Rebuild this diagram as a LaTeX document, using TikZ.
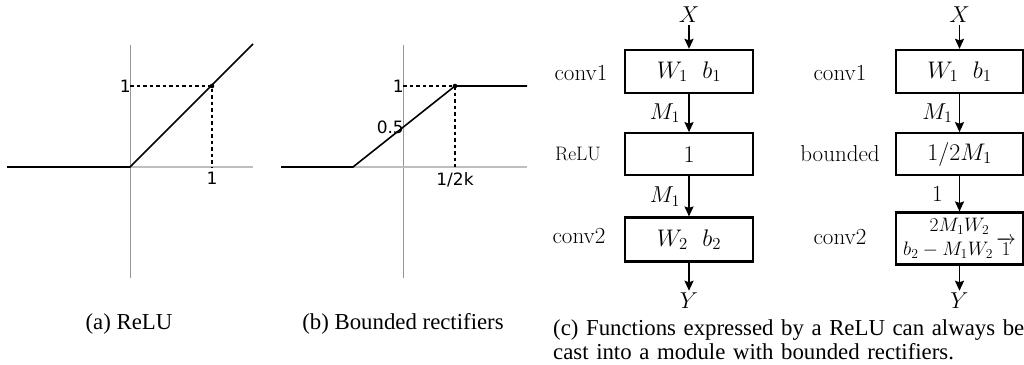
\RequirePackage{fix-cm}
\documentclass[tikz,border=0pt]{standalone}
\usepackage{fontspec}
\usepackage{tikz}
\usetikzlibrary{arrows.meta, positioning, calc}
\newfontfamily\plotfont{DejaVu Sans}
\newfontfamily\capfont{Liberation Serif}
\definecolor{AxisGray}{RGB}{150, 150, 150}
\definecolor{AxisLight}{RGB}{190, 190, 190}
\tikzset{
  axisv/.style={draw=AxisGray, line width=1pt},
  axish/.style={draw=AxisLight, line width=1.2pt},
  curve/.style={line width=1.6pt, black},
  guide/.style={line width=1.1pt, dash pattern=on 3.5pt off 3pt},
  tick/.style={font=\plotfont\fontsize{17}{20}\selectfont, inner sep=0pt},
  layerbox/.style={draw, line width=2.3pt, minimum width=128pt, minimum height=43pt, inner sep=2pt,
                   font=\fontsize{24}{28}\selectfont},
  lbl/.style={font=\fontsize{23}{27}\selectfont},
  edgelbl/.style={lbl, left, inner sep=0pt, xshift=-8pt},
  flow/.style={-{Stealth[length=10pt, width=9pt, inset=1.5pt]}, line width=1.8pt},
  captext/.style={font=\capfont\fontsize{22.8}{22}\selectfont, inner sep=0pt}
}
\begin{document}
\begin{tikzpicture}[x=1pt, y=-1pt]
  \useasboundingbox (0,0) rectangle (1024,364);

  % (a) ReLU
  \coordinate (a0) at (130,167);
  \coordinate (a1) at (212,86);
  \draw[axisv] (130,45) -- (130,278);
  \draw[axish] (7,167) -- (253,167);
  \draw[guide] (a1 -| a0) -- (a1) -- (a1 |- a0);
  \draw[curve] (7,167) -- (a0) -- (253,44);
  \fill (a1) circle (2.3pt);
  \node[tick, anchor=east] (a-one-y) at ($(a1 -| a0)+(1,0)$) {1};
  \node[tick, anchor=north] (a-one-x) at ($(a1 |- a0)+(0,5)$) {1};

  % (b) bounded rectifiers
  \coordinate (b0) at (403,167);
  \coordinate (b1) at (455,86);
  \coordinate (b2) at (353,167);
  \draw[axisv] (403,45) -- (403,278);
  \draw[axish] (281,167) -- (527,167);
  \draw[guide] (b1 -| b0) -- (b1) -- (b1 |- b0);
  \draw[curve] (281,167) -- (b2) -- (b1) -- (527,86);
  \fill (b1) circle (2.3pt);
  \node[tick, anchor=east] (b-one-y) at ($(b1 -| b0)+(1,0)$) {1};
  \node[tick, anchor=east] (b-half) at (404,127) {0.5};
  \node[tick, anchor=north] (b-k) at ($(b1 |- b0)+(0,5)$) {1/2k};

  % (c) left: ReLU module
  \node[layerbox] (c1) at (689,71.5) {$W_1\ \ b_1$};
  \node[layerbox, minimum height=42pt, below=38pt of c1] (relu) {$1$};
  \node[layerbox, minimum height=44pt, below=40pt of relu] (c2) {$W_2\ \ b_2$};
  \node[lbl, above=24pt of c1, inner sep=2pt] (x-l) {$X$};
  \node[lbl, below=28pt of c2, inner sep=2pt] (y-l) {$Y$};
  \node[lbl] (c1-name) at (581,73) {conv1};
  \node[font=\fontsize{19.5}{22}\selectfont] (relu-name) at (578,154) {ReLU};
  \node[lbl] (c2-name) at (579,236) {conv2};
  \draw[flow] (x-l) -- (c1);
  \draw[flow] (c1) -- node[edgelbl] {$M_1$} (relu);
  \draw[flow] (relu) -- node[edgelbl] {$M_1$} (c2);
  \draw[flow] (c2) -- (y-l);

  % (c) right: bounded module
  \node[layerbox, minimum width=127pt] (r1) at (959.5,71.5) {$W_1\ \ b_1$};
  \node[layerbox, minimum width=127pt, minimum height=42pt, below=38pt of r1] (bnd) {$1/2M_1$};
  \node[layerbox, minimum width=127pt, minimum height=52pt, below=35pt of bnd, align=center,
        font=\fontsize{19.5}{23}\selectfont] (r2) {$2M_1W_2$\\[1pt]$b_2-M_1W_2\,\overrightarrow{1}$};
  \node[lbl, above=24pt of r1, inner sep=2pt] (xr-l) {$X$};
  \node[lbl, below=25pt of r2, inner sep=2pt] (yr-l) {$Y$};
  \node[lbl] (r1-name) at (840,73) {conv1};
  \node[lbl] (bnd-name) at (840,154) {bounded};
  \node[lbl] (r2-name) at (840,237) {conv2};
  \draw[flow] (xr-l) -- (r1);
  \draw[flow] (r1) -- node[edgelbl, xshift=2pt] {$M_1$} (bnd);
  \draw[flow] (bnd) -- node[edgelbl, xshift=-8pt] {$1$} (r2);
  \draw[flow] (r2) -- (yr-l);

  % captions
  \node[captext, anchor=base] (cap-a) at (129,329) {(a) ReLU};
  \node[captext, anchor=base] (cap-b) at (403,329) {(b) Bounded rectifiers};
  \node[captext, anchor=base west, text width=490pt, align=left] (cap-c) at (553,335)
    {(c) Functions expressed by a ReLU can always be\\[2pt]cast into a module with bounded rectifiers.};
\end{tikzpicture}
\end{document}
